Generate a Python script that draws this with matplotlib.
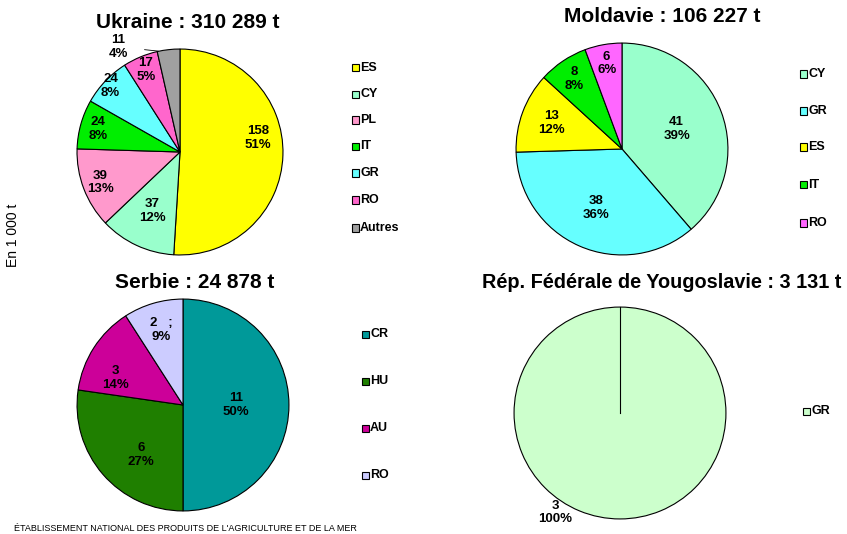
import numpy as np
import matplotlib
matplotlib.use('Agg')
import matplotlib.pyplot as plt
from matplotlib.patches import Rectangle

plt.rcParams.update({'font.family': ['Liberation Sans', 'DejaVu Sans']})

W, H = 847, 534

# exports in 1 000 t, by destination
ukr_labels = ['ES', 'CY', 'PL', 'IT', 'GR', 'RO', 'Autres']
ukr_values = [158, 37, 39, 24, 24, 17, 11]
ukr_colors = ['#FFFF00', '#99FFCC', '#FF99CC', '#00EE00', '#66FFFF', '#FF66CC', '#A0A0A0']

mol_labels = ['CY', 'GR', 'ES', 'IT', 'RO']
mol_values = [41, 38, 13, 8, 6]
mol_colors = ['#99FFCC', '#66FFFF', '#FFFF00', '#00EE00', '#FF66FF']

ser_labels = ['CR', 'HU', 'AU', 'RO']
ser_values = [11, 6, 3, 2]
ser_colors = ['#009999', '#1F7F00', '#CC0099', '#CCCCFF']

yug_labels = ['GR']
yug_values = [3]
yug_colors = ['#CCFFCC']

LABEL_FS = 9.5


def px_axes(cx, cy, r):
    # square axes centred on (cx, cy) in pixels from the top-left corner
    return fig.add_axes([(cx - r) / W, (H - cy - r) / H, 2 * r / W, 2 * r / H])


def draw_pie(ax, values, colors, label_r, label_shift=None, value_text=None):
    total = sum(values)
    wedges, _ = ax.pie(values, colors=colors, startangle=90, counterclock=False,
                       wedgeprops=dict(edgecolor='black', linewidth=0.8))
    ax.set_xlim(-1.01, 1.01)
    ax.set_ylim(-1.01, 1.01)
    ax.set_aspect('equal')
    ax.axis('off')
    label_shift = label_shift or {}
    out = []
    for i, (w, v) in enumerate(zip(wedges, values)):
        txt = f'{v}\n{round(100 * v / total):.0f}%'
        if value_text and i in value_text:
            txt = value_text[i]
        ang = np.deg2rad((w.theta1 + w.theta2) / 2 + label_shift.get(i, 0))
        out.append((w, txt))
        if label_r[i] is None:
            continue
        ax.text(label_r[i] * np.cos(ang), label_r[i] * np.sin(ang), txt,
                ha='center', va='center', fontsize=LABEL_FS, fontweight='bold',
                linespacing=1.2)
    return out


def draw_legend(x, ys, labels, colors):
    for y, lab, col in zip(ys, labels, colors):
        fig.add_artist(Rectangle((x / W, 1 - (y + 3.5) / H), 7 / W, 7 / H,
                                 facecolor=col, edgecolor='black', linewidth=0.8,
                                 transform=fig.transFigure))
        fig.text((x + 8) / W, 1 - y / H, lab, ha='left', va='center',
                 fontsize=9, fontweight='bold')


fig = plt.figure(figsize=(W / 100, H / 100), dpi=100)

# Ukraine
ax1 = px_axes(180, 152, 104)
lab = draw_pie(ax1, ukr_values, ukr_colors, [0.77, 0.63, 0.83, 0.83, 0.93, 0.86, None],
               label_shift={0: 12})
ax1.annotate(lab[-1][1], xy=(-0.21, 0.98), xytext=(-0.6, 1.02),
             ha='center', va='center', fontsize=LABEL_FS, fontweight='bold', linespacing=1.2,
             annotation_clip=False,
             arrowprops=dict(arrowstyle='-', color='black', linewidth=0.6,
                             shrinkA=10, shrinkB=0))
fig.text(188 / W, 1 - 22 / H, 'Ukraine : 310 289 t', ha='center', va='center',
         fontsize=15, fontweight='bold')
draw_legend(352, [68, 94, 120, 146, 173, 200, 228], ukr_labels, ukr_colors)

# Moldavie
ax2 = px_axes(622, 149, 107)
draw_pie(ax2, mol_values, mol_colors, [0.55, 0.61, 0.71, 0.80, 0.82])
fig.text(662 / W, 1 - 16 / H, 'Moldavie : 106 227 t', ha='center', va='center',
         fontsize=15, fontweight='bold')
draw_legend(800, [74, 111, 147, 185, 223], mol_labels, mol_colors)

# Serbie
ax3 = px_axes(183, 405, 107)
draw_pie(ax3, ser_values, ser_colors, [0.5, 0.62, 0.69, 0.74],
         label_shift={1: 9, 2: 11}, value_text={3: '2   ;\n9%'})
fig.text(195 / W, 1 - 282 / H, 'Serbie : 24 878 t', ha='center', va='center',
         fontsize=15, fontweight='bold')
draw_legend(362, [334, 381, 428, 475], ser_labels, ser_colors)

# République fédérale de Yougoslavie
ax4 = px_axes(620, 413, 107)
lab = draw_pie(ax4, yug_values, yug_colors, [None])
# a single full slice still shows its start edge from the centre
w0 = lab[0][0]
t0 = np.deg2rad(w0.theta1)
ax4.plot([0, np.cos(t0)], [0, np.sin(t0)], color='black', linewidth=0.8)
ax4.text(-0.61, -0.94, lab[0][1], ha='center', va='center', fontsize=LABEL_FS,
         fontweight='bold', linespacing=1.2)
fig.text(662 / W, 1 - 282 / H, 'Rép. Fédérale de Yougoslavie : 3 131 t', ha='center',
         va='center', fontsize=14.3, fontweight='bold')
draw_legend(803, [411], yug_labels, yug_colors)

fig.text(13 / W, 1 - 235 / H, 'En 1 000 t', rotation=90, ha='center', va='center',
         fontsize=10)
fig.text(14 / W, 1 - 524 / H, "ÉTABLISSEMENT NATIONAL DES PRODUITS DE L'AGRICULTURE ET DE LA MER",
         ha='left', va='top', fontsize=6.5)

fig.savefig('out.png', dpi=100)
